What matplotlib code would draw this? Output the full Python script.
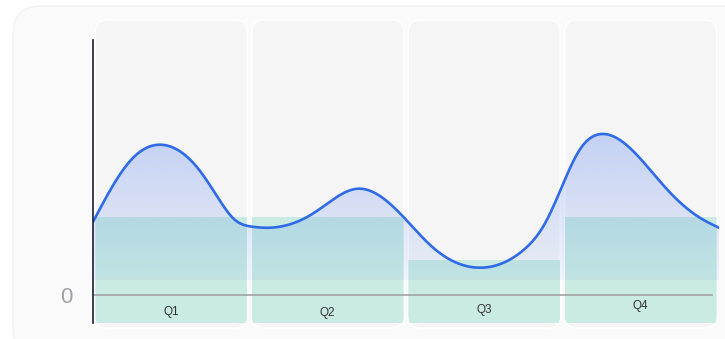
import numpy as np
import matplotlib
matplotlib.use("Agg")
import matplotlib.pyplot as plt
from matplotlib.patches import FancyBboxPatch, Polygon
from matplotlib.colors import to_rgb

# quarterly bars
quarters = ["Q1", "Q2", "Q3", "Q4"]
bar_values = [80, 80, 36, 80]

# trend line (x in quarter units, centre of Q1 = 0)
line_x = [-0.5, -0.26, -0.02, 0.18, 0.31, 0.40, 0.52, 0.63, 0.91, 1.19, 1.46,
          1.67, 1.97, 2.25, 2.39, 2.48, 2.61, 2.74, 3.17, 3.38, 3.5]
line_y = [75, 138, 153, 128, 97, 78, 70, 69, 84, 109, 84,
          49, 28, 46, 74, 105, 149, 165, 108, 79, 69]

zero_label = "0"

W, H = 725, 339
fig = plt.figure(figsize=(W / 100, H / 100), dpi=100)
fig.patch.set_facecolor("white")

# card background, pixel coordinates
bg = fig.add_axes([0, 0, 1, 1], zorder=0)
bg.set_xlim(0, W)
bg.set_ylim(H, 0)
bg.axis("off")
bg.add_patch(FancyBboxPatch((13, 6), 740, 350, boxstyle="round,pad=0,rounding_size=28",
                            fc="#fafafa", ec="#f0f0f0", lw=0.8))

# main axes: x from -0.5 to 3.5, zero at y=295px
ax_l, ax_r, ax_t, ax_b = 93, 719, 40, 323
px_per_unit = 0.975
ymin = -(ax_b - 295) / px_per_unit
ymax = (295 - ax_t) / px_per_unit
ax = fig.add_axes([ax_l / W, 1 - ax_b / H, (ax_r - ax_l) / W, (ax_b - ax_t) / H], zorder=1)
ax.patch.set_alpha(0)
ax.set_xlim(-0.5, 3.5)
ax.set_ylim(ymin, ymax)

xpx = (ax_r - ax_l) / 4.0
aspect = xpx / px_per_unit  # data-y per data-x for equal pixel rounding
rad = 12 / xpx

panel_w = 0.97
panel_top = (295 - 20) / px_per_unit
panel_bot = (295 - 328) / px_per_unit
x = np.arange(len(quarters))

panels = []
for xi in x:
    p = FancyBboxPatch((xi - panel_w / 2, panel_bot), panel_w, panel_top - panel_bot,
                       boxstyle=f"round,pad=0,rounding_size={rad}", mutation_aspect=aspect,
                       fc="#f5f5f5", ec="white", lw=1.0, clip_on=False, zorder=1)
    ax.add_patch(p)
    panels.append(p)

bars = ax.bar(x, np.array(bar_values) - panel_bot, bottom=panel_bot, width=panel_w,
              color="#c9ebe2", lw=0, zorder=2)
for b, p in zip(bars, panels):
    b.set_clip_on(True)
    b.set_clip_path(p)


def natural_spline(xs, ys, n=800):
    # natural cubic spline, second derivatives from the tridiagonal system
    xs = np.asarray(xs, float)
    ys = np.asarray(ys, float)
    k = len(xs)
    h = np.diff(xs)
    A = np.zeros((k, k))
    r = np.zeros(k)
    A[0, 0] = A[-1, -1] = 1
    for i in range(1, k - 1):
        A[i, i - 1] = h[i - 1]
        A[i, i] = 2 * (h[i - 1] + h[i])
        A[i, i + 1] = h[i]
        r[i] = 6 * ((ys[i + 1] - ys[i]) / h[i] - (ys[i] - ys[i - 1]) / h[i - 1])
    M = np.linalg.solve(A, r)
    xx = np.linspace(xs[0], xs[-1], n)
    j = np.clip(np.searchsorted(xs, xx) - 1, 0, k - 2)
    a = xs[j + 1] - xx
    b = xx - xs[j]
    hj = h[j]
    yy = (M[j] * a**3 + M[j + 1] * b**3) / (6 * hj) \
        + (ys[j] / hj - M[j] * hj / 6) * a + (ys[j + 1] / hj - M[j + 1] * hj / 6) * b
    return xx, yy


cx, cy = natural_spline(line_x, line_y)

# gradient area under the line
fill_base = (295 - 280) / px_per_unit
blue = to_rgb("#3b6ff0")
grad = np.zeros((256, 2, 4))
grad[..., :3] = blue
grad[..., 3] = np.linspace(0.27, 0.06, 256)[:, None]
top = cy.max()
im = ax.imshow(grad, extent=(-0.5, 3.5, fill_base, top), origin="upper",
               aspect="auto", zorder=3, interpolation="bilinear")
verts = np.vstack([np.column_stack([cx, cy]), [[cx[-1], fill_base], [cx[0], fill_base]]])
clip = Polygon(verts, closed=True, fc="none", ec="none", transform=ax.transData)
ax.add_patch(clip)
im.set_clip_path(clip)

ax.plot(cx, cy, color="#2f6be6", lw=1.9, zorder=5, solid_capstyle="round")

# zero line
ax.axhline(0, xmin=0, xmax=(712 - ax_l) / (ax_r - ax_l), color="#a2a2a2", lw=1.2, zorder=4)

ax.set_ylim(ymin, ymax)
ax.set_xlim(-0.5, 3.5)

for s in ["top", "right", "bottom"]:
    ax.spines[s].set_visible(False)
ax.spines["left"].set_color("#1c1c3a")
ax.spines["left"].set_linewidth(1.2)
ax.spines["left"].set_zorder(6)
ax.set_xticks([])
ax.set_yticks([0])
ax.set_yticklabels([zero_label], fontsize=16, color="#a0a0a8", family="Liberation Sans")
ax.tick_params(axis="y", length=0, pad=15)

label_px_y = [311.5, 313, 310, 305.5]
for xi, q, py in zip(x, quarters, label_px_y):
    ax.text(xi, (295 - py) / px_per_unit, q, ha="center", va="center", fontsize=8.5,
            color="#333333", family="Liberation Sans", zorder=6)

fig.savefig("out.png", dpi=100, facecolor="white")
